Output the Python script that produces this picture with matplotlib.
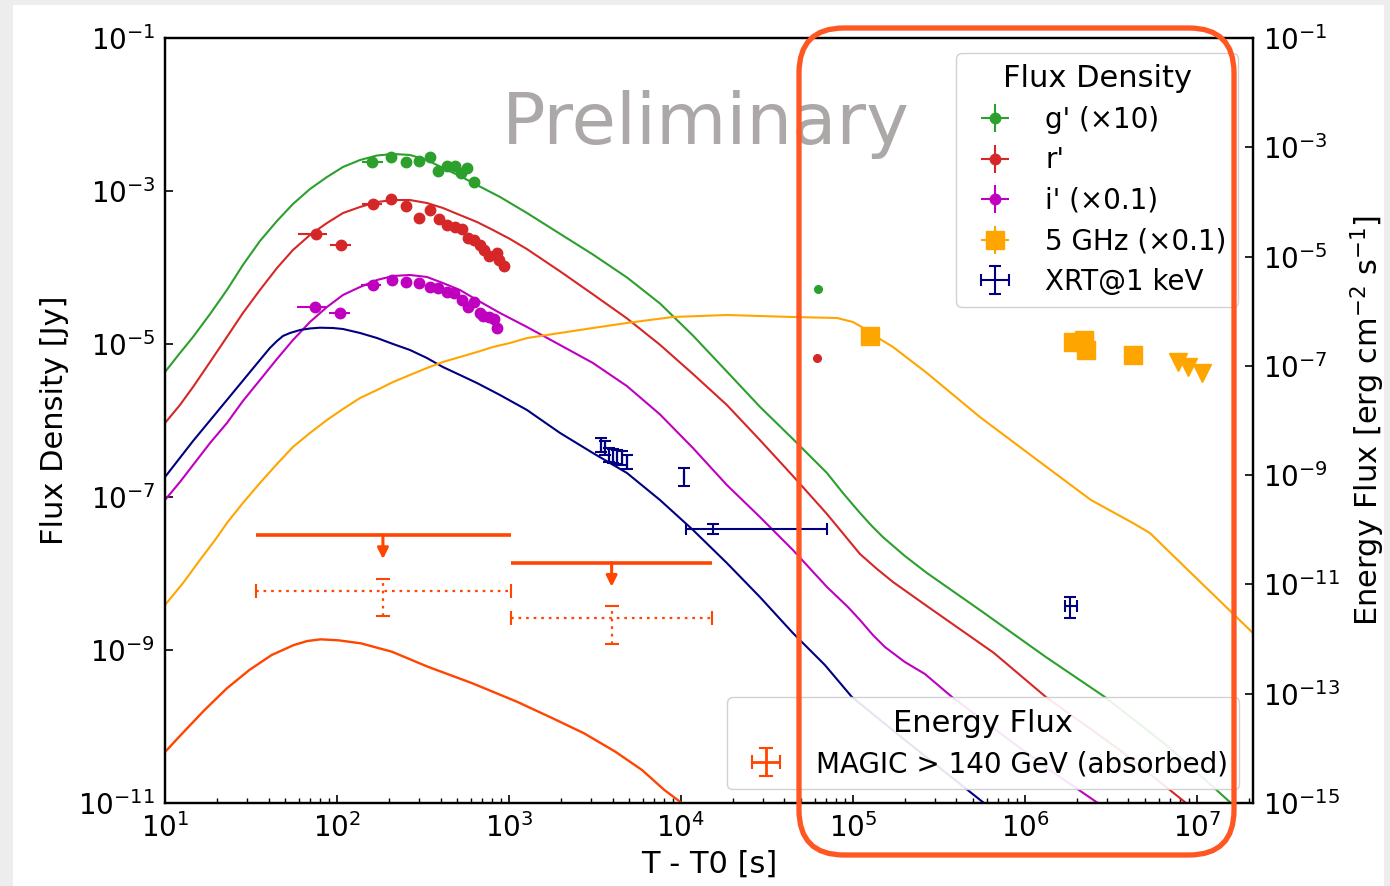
import numpy as np
import matplotlib
matplotlib.use("Agg")
import matplotlib.pyplot as plt
from matplotlib.patches import FancyBboxPatch, Rectangle
from matplotlib.transforms import Affine2D
from matplotlib.ticker import NullLocator, LogLocator
from matplotlib.legend_handler import HandlerErrorbar

# ---------------- data ----------------
# optical g' (x10) [Jy]
g_t = [160, 206, 252, 300, 347, 387, 436, 485, 526, 570, 626]
g_f = [2.42e-3, 2.81e-3, 2.37e-3, 2.47e-3, 2.81e-3, 1.84e-3, 2.12e-3, 2.12e-3, 1.70e-3, 1.98e-3, 1.30e-3]
g_tlo = [20, 0, 0, 0, 0, 0, 0, 0, 0, 0, 0]
g_thi = [25, 0, 0, 0, 0, 0, 0, 0, 0, 0, 0]
g_ferr = [0, 0, 0, 0, 0, 0, 0, 0, 0, 0, 0]
g_late_t = [6.26e4]
g_late_f = [5.24e-5]

# optical r' [Jy]
r_t = [75.5, 105.5, 162, 206, 252, 300, 347, 392, 436, 485, 533, 578, 626, 678, 716, 765, 851, 875, 935]
r_f = [2.74e-4, 1.97e-4, 6.76e-4, 7.86e-4, 6.37e-4, 4.43e-4, 5.65e-4, 4.30e-4, 3.60e-4, 3.38e-4,
       3.19e-4, 2.43e-4, 2.29e-4, 1.97e-4, 1.69e-4, 1.41e-4, 1.55e-4, 1.25e-4, 1.05e-4]
r_tlo = [16, 14.5, 23, 0, 0, 0, 0, 0, 0, 0, 0, 0, 0, 0, 0, 0, 0, 0, 0]
r_thi = [12, 14.5, 20, 0, 0, 0, 0, 0, 0, 0, 0, 0, 0, 0, 0, 0, 0, 0, 0]
r_ferr = [0, 0, 0, 0, 0, 0, 0, 0, 0, 0, 0, 0, 0, 0, 0, 0, 0, 0, 0]
r_late_t = [6.18e4]
r_late_f = [6.56e-6]

# optical i' (x0.1) [Jy]
i_t = [74.5, 104, 161, 208, 252, 300, 347, 388, 434, 479, 531, 580, 626, 678, 709, 769, 819, 855]
i_f = [3.07e-5, 2.57e-5, 5.90e-5, 6.87e-5, 6.41e-5, 6.36e-5, 5.61e-5, 5.35e-5, 4.83e-5, 4.60e-5,
       3.76e-5, 3.07e-5, 3.57e-5, 2.52e-5, 2.32e-5, 2.23e-5, 2.10e-5, 1.60e-5]
i_tlo = [16, 14.5, 23, 0, 0, 0, 0, 0, 0, 0, 0, 0, 0, 0, 0, 0, 0, 0]
i_thi = [12, 14.5, 20, 0, 0, 0, 0, 0, 0, 0, 0, 0, 0, 0, 0, 0, 0, 0]
i_ferr = [0, 0, 0, 0, 0, 0, 0, 0, 0, 0, 0, 0, 0, 0, 0, 0, 0, 0]

# radio 5 GHz (x0.1) [Jy]
rad_t = [1.256e5, 1.91e6, 2.20e6, 2.26e6, 4.27e6]
rad_f = [1.27e-5, 1.07e-5, 1.13e-5, 8.35e-6, 7.18e-6]
rad_terr = [0, 0, 0, 0, 0]
rad_ferr = [0, 0, 0, 0, 0]
rad_ul_t = [7.79e6, 8.91e6, 1.065e7]
rad_ul_f = [5.87e-6, 5.05e-6, 4.14e-6]

# XRT @ 1 keV [Jy]
x_t = [3414, 3614, 3830, 4040, 4260, 4520, 4830, 10450, 15300, 1.83e6]
x_f = [4.79e-7, 4.34e-7, 3.54e-7, 3.44e-7, 3.36e-7, 3.21e-7, 2.89e-7, 1.84e-7, 3.78e-8, 3.76e-9]
x_flo = [0.9e-7, 0.8e-7, 0.65e-7, 0.63e-7, 0.62e-7, 0.60e-7, 0.55e-7, 0.45e-7, 0.53e-8, 1.14e-9]
x_fhi = [1.1e-7, 1.0e-7, 0.8e-7, 0.78e-7, 0.76e-7, 0.73e-7, 0.66e-7, 0.53e-7, 0.66e-8, 1.17e-9]
x_tlo = [0, 0, 0, 0, 0, 0, 0, 0, 4600, 1.2e5]
x_thi = [0, 0, 0, 0, 0, 0, 0, 0, 55000, 1.7e5]

# MAGIC > 140 GeV energy flux [erg cm^-2 s^-1]
m_t = [185, 3954]
m_tlo = [151.2, 2926]
m_thi = [843, 11246]
m_ul_f = [8.0e-11, 2.49e-11]
m_f = [7.67e-12, 2.46e-12]
m_ferr = [5.0e-12, 1.64e-12]

# model curves (log10 t, log10 flux)
g_mod_lt = [1.000, 1.087, 1.163, 1.262, 1.360, 1.453, 1.552, 1.651, 1.744, 1.843, 1.942, 2.035, 2.134,
            2.233, 2.326, 2.424, 2.523, 2.616, 2.715, 2.814, 2.948, 3.105, 3.297, 3.488, 3.686, 3.878,
            4.070, 4.267, 4.459, 4.651, 4.849, 4.942, 5.041, 5.110, 5.174, 5.302, 5.430, 5.738, 6.122,
            6.465, 6.843, 7.198, 7.279]
g_mod_lf = [-5.366, -5.118, -4.908, -4.608, -4.294, -3.967, -3.654, -3.392, -3.170, -2.974, -2.817,
            -2.686, -2.595, -2.536, -2.516, -2.529, -2.595, -2.699, -2.804, -2.922, -3.078, -3.288,
            -3.560, -3.830, -4.130, -4.470, -4.890, -5.360, -5.820, -6.242, -6.686, -6.948, -7.209,
            -7.379, -7.523, -7.771, -7.993, -8.477, -9.092, -9.614, -10.281, -11.0, -11.18]
r_mod_lt = [1.000, 1.087, 1.163, 1.262, 1.360, 1.453, 1.552, 1.651, 1.744, 1.843, 1.942, 2.035, 2.134,
            2.233, 2.326, 2.424, 2.523, 2.616, 2.715, 2.814, 2.907, 3.006, 3.105, 3.297, 3.488, 3.686,
            3.878, 4.070, 4.267, 4.459, 4.651, 4.849, 5.041, 5.140, 5.233, 5.430, 5.820, 6.122, 6.552,
            6.930, 7.017]
r_mod_lf = [-6.033, -5.797, -5.562, -5.235, -4.908, -4.595, -4.294, -4.007, -3.771, -3.575, -3.418,
            -3.288, -3.209, -3.144, -3.118, -3.118, -3.157, -3.222, -3.314, -3.405, -3.510, -3.627,
            -3.760, -4.050, -4.350, -4.665, -5.010, -5.392, -5.797, -6.255, -6.725, -7.222, -7.745,
            -7.941, -8.111, -8.425, -9.039, -9.614, -10.307, -10.987, -11.157]
i_mod_lt = [1.000, 1.087, 1.163, 1.262, 1.360, 1.453, 1.552, 1.651, 1.744, 1.843, 1.942, 2.035, 2.134,
            2.233, 2.326, 2.424, 2.523, 2.616, 2.715, 2.814, 2.948, 3.105, 3.297, 3.488, 3.686, 3.878,
            4.070, 4.267, 4.459, 4.651, 4.849, 4.971, 5.041, 5.116, 5.186, 5.302, 5.419, 5.576, 5.855,
            6.145, 6.424, 6.523]
i_mod_lf = [-7.039, -6.804, -6.582, -6.294, -6.033, -5.745, -5.471, -5.196, -4.948, -4.712, -4.516,
            -4.359, -4.255, -4.163, -4.111, -4.098, -4.124, -4.203, -4.294, -4.425, -4.595, -4.778,
            -5.013, -5.248, -5.550, -5.920, -6.360, -6.843, -7.261, -7.693, -8.176, -8.438, -8.608,
            -8.804, -8.961, -9.157, -9.314, -9.614, -10.085, -10.569, -11.0, -11.157]
x_mod_lt = [1.000, 1.163, 1.360, 1.552, 1.610, 1.651, 1.686, 1.727, 1.785, 1.843, 1.901, 1.977, 2.035,
            2.134, 2.233, 2.326, 2.424, 2.523, 2.616, 2.715, 2.814, 2.948, 3.105, 3.297, 3.488, 3.686,
            3.878, 4.070, 4.267, 4.459, 4.651, 4.837, 4.994, 5.273, 5.506, 5.762, 5.855]
x_mod_lf = [-6.739, -6.268, -5.732, -5.209, -5.052, -4.961, -4.895, -4.856, -4.817, -4.797, -4.787,
            -4.791, -4.804, -4.856, -4.922, -5.000, -5.078, -5.183, -5.301, -5.405, -5.510, -5.667,
            -5.863, -6.163, -6.425, -6.686, -7.039, -7.431, -7.863, -8.307, -8.778, -9.196, -9.614,
            -10.124, -10.542, -11.0, -11.170]
rad_mod_lt = [1.000, 1.105, 1.203, 1.291, 1.360, 1.453, 1.552, 1.651, 1.744, 1.843, 1.942, 2.035,
              2.134, 2.233, 2.326, 2.424, 2.523, 2.616, 2.715, 2.814, 2.907, 3.006, 3.105, 3.297,
              3.488, 3.686, 3.953, 4.267, 4.651, 4.907, 5.000, 5.081, 5.157, 5.233, 5.430, 5.738,
              6.087, 6.384, 6.628, 6.727, 6.930, 7.326]
rad_mod_lf = [-8.412, -8.124, -7.824, -7.562, -7.340, -7.078, -6.817, -6.569, -6.346, -6.163, -5.993,
              -5.850, -5.706, -5.601, -5.497, -5.405, -5.314, -5.235, -5.170, -5.105, -5.039, -4.987,
              -4.922, -4.856, -4.791, -4.725, -4.647, -4.621, -4.647, -4.660, -4.712, -4.817, -4.935,
              -5.039, -5.379, -5.954, -6.542, -7.039, -7.340, -7.471, -7.915, -8.778]
m_mod_lt = [1.000, 1.101, 1.230, 1.360, 1.490, 1.620, 1.749, 1.827, 1.905, 2.009, 2.139, 2.320, 2.528,
            2.788, 3.047, 3.255, 3.437, 3.619, 3.774, 3.904, 3.995, 4.052]
m_mod_lf = [-14.067, -13.725, -13.298, -12.901, -12.567, -12.292, -12.109, -12.036, -12.005, -12.023,
            -12.078, -12.232, -12.506, -12.810, -13.147, -13.451, -13.725, -14.062, -14.397, -14.763,
            -14.977, -15.22]

# labels
leg1_labels = ["g' (\u00d710)", "r'", "i' (\u00d70.1)", "5 GHz (\u00d70.1)", "XRT@1 keV"]
leg2_label = "MAGIC > 140 GeV (absorbed)"
left_yticks = [1e-11, 1e-9, 1e-7, 1e-5, 1e-3, 1e-1]
right_yticks = [1e-15, 1e-13, 1e-11, 1e-9, 1e-7, 1e-5, 1e-3, 1e-1]

# ---------------- style ----------------
C_G = '#2ca02c'
C_R = '#d62728'
C_I = '#bf00bf'
C_RAD = '#ffa500'
C_X = '#000080'
C_M = '#ff4500'
ARROW_FACTOR = 0.364


class SolidErrorbarHandler(HandlerErrorbar):
    def create_artists(self, *args, **kwargs):
        arts = super().create_artists(*args, **kwargs)
        for a in arts:
            try:
                a.set_linestyle('-')
                a.set_linewidth(2.0)
            except Exception:
                pass
        return arts


W, H = 1390, 886
fig = plt.figure(figsize=(W / 100, H / 100), dpi=100)
fig.patch.set_facecolor('#ededed')
fig.add_artist(Rectangle((13 / W, 0), (1384 - 13) / W, (H - 5) / H, transform=fig.transFigure,
                         facecolor='white', edgecolor='none', zorder=-10))

ax = fig.add_axes([165 / W, 1 - 803 / H, (1253 - 165) / W, (803 - 38) / H])
ax2 = ax.twinx()

ax.set_xscale('log')
ax.set_yscale('log')
ax2.set_yscale('log')
ax.set_xlim(10, 2.12e7)
ax.set_ylim(1e-11, 1e-1)
ax2.set_ylim(1e-15, 1e-1)

# model curves
for lt, lf, c in [(g_mod_lt, g_mod_lf, C_G), (r_mod_lt, r_mod_lf, C_R), (i_mod_lt, i_mod_lf, C_I),
                  (x_mod_lt, x_mod_lf, C_X), (rad_mod_lt, rad_mod_lf, C_RAD)]:
    ax.plot(10 ** np.array(lt), 10 ** np.array(lf), color=c, lw=1.5, zorder=2,
            solid_joinstyle='round')
ax2.plot(10 ** np.array(m_mod_lt), 10 ** np.array(m_mod_lf), color=C_M, lw=1.7, zorder=2,
         solid_joinstyle='round')

# data points
eb_g = ax.errorbar(g_t, g_f, xerr=[g_tlo, g_thi], yerr=g_ferr, fmt='o', color=C_G, ms=7.5,
                   elinewidth=1.5, capsize=0, zorder=3)
eb_r = ax.errorbar(r_t, r_f, xerr=[r_tlo, r_thi], yerr=r_ferr, fmt='o', color=C_R, ms=7.5,
                   elinewidth=1.5, capsize=0, zorder=3)
eb_i = ax.errorbar(i_t, i_f, xerr=[i_tlo, i_thi], yerr=i_ferr, fmt='o', color=C_I, ms=7.5,
                   elinewidth=1.5, capsize=0, zorder=3)
ax.plot(g_late_t, g_late_f, 'o', color=C_G, ms=5.5, zorder=3)
ax.plot(r_late_t, r_late_f, 'o', color=C_R, ms=5.5, zorder=3)
eb_rad = ax.errorbar(rad_t, rad_f, xerr=rad_terr, yerr=rad_ferr, fmt='s', color=C_RAD, ms=13,
                     elinewidth=1.5, capsize=0, zorder=3)
ax.plot(rad_ul_t, rad_ul_f, 'v', color=C_RAD, ms=13, ls='none', zorder=3)
eb_x = ax.errorbar(x_t, x_f, xerr=[x_tlo, x_thi], yerr=[x_flo, x_fhi], fmt='none', ecolor=C_X,
                   elinewidth=1.5, capsize=4, capthick=1.5, zorder=3)

# MAGIC upper limits and points
ax2.errorbar(m_t, m_ul_f, xerr=[m_tlo, m_thi], fmt='none', ecolor=C_M, elinewidth=2.6, capsize=0, zorder=3)
for t, f in zip(m_t, m_ul_f):
    ax2.annotate('', xy=(t, f * ARROW_FACTOR), xytext=(t, f),
                 arrowprops=dict(arrowstyle='-|>', color=C_M, lw=2.2, mutation_scale=16,
                                 shrinkA=0, shrinkB=0), zorder=3)
eb_m = ax2.errorbar(m_t, m_f, xerr=[m_tlo, m_thi], yerr=m_ferr, fmt='none', ecolor=C_M,
                    elinewidth=1.6, capsize=5, capthick=1.5, zorder=3)
for lc in eb_m[2]:
    lc.set_linestyle((0, (1.2, 2.2)))

# axes styling
for a in (ax, ax2):
    for sp in a.spines.values():
        sp.set_linewidth(1.6)
ax.set_yticks(left_yticks)
ax.yaxis.set_minor_locator(NullLocator())
ax2.set_yticks(right_yticks)
ax2.yaxis.set_minor_locator(NullLocator())
ax.xaxis.set_major_locator(LogLocator(base=10, numticks=20))
ax.xaxis.set_minor_locator(LogLocator(base=10, subs=np.arange(2, 10), numticks=20))
ax.tick_params(axis='both', which='major', direction='in', length=6, width=1.2, labelsize=20, pad=7)
ax.tick_params(axis='x', which='minor', direction='in', length=3.5, width=1.0)
ax2.tick_params(axis='y', which='major', direction='in', length=6, width=1.2, labelsize=20, pad=7)

ax.set_xlabel('T - T0 [s]', fontsize=22, labelpad=5)
ax.set_ylabel('Flux Density [Jy]', fontsize=22, labelpad=7)
ax2.set_ylabel('Energy Flux [erg cm$^{-2}$ s$^{-1}$]', fontsize=22, labelpad=6)

ax.text(0.497, 0.887, 'Preliminary', transform=ax.transAxes, fontsize=52, color='#aca8a8',
        ha='center', va='center', zorder=1)

# legends
leg1 = ax2.legend([eb_g, eb_r, eb_i, eb_rad, eb_x], leg1_labels, loc='upper right', title='Flux Density',
                  fontsize=20, title_fontsize=22, handlelength=2.0, handletextpad=0.8,
                  labelspacing=0.45, borderpad=0.4, borderaxespad=0.55, frameon=True, fancybox=True,
                  edgecolor='#cccccc', framealpha=0.9)
ax2.add_artist(leg1)
leg2 = ax2.legend([eb_m], [leg2_label], loc='lower right', title='Energy Flux',
                  fontsize=20, title_fontsize=22, handlelength=2.0, handletextpad=0.8,
                  labelspacing=0.45, borderpad=0.4, borderaxespad=0.5, frameon=True, fancybox=True,
                  edgecolor='#cccccc', framealpha=0.9,
                  handler_map={type(eb_m): SolidErrorbarHandler()})

# highlight box (slide annotation)
pix = Affine2D().scale(1 / W, 1 / H) + fig.transFigure
box = FancyBboxPatch((799, H - 855), 1234 - 799, 855 - 28, boxstyle='round,pad=0,rounding_size=45',
                     transform=pix, facecolor='none', edgecolor='#ff5722', lw=3.8, zorder=50)
fig.add_artist(box)

fig.savefig('out.png', dpi=100)
